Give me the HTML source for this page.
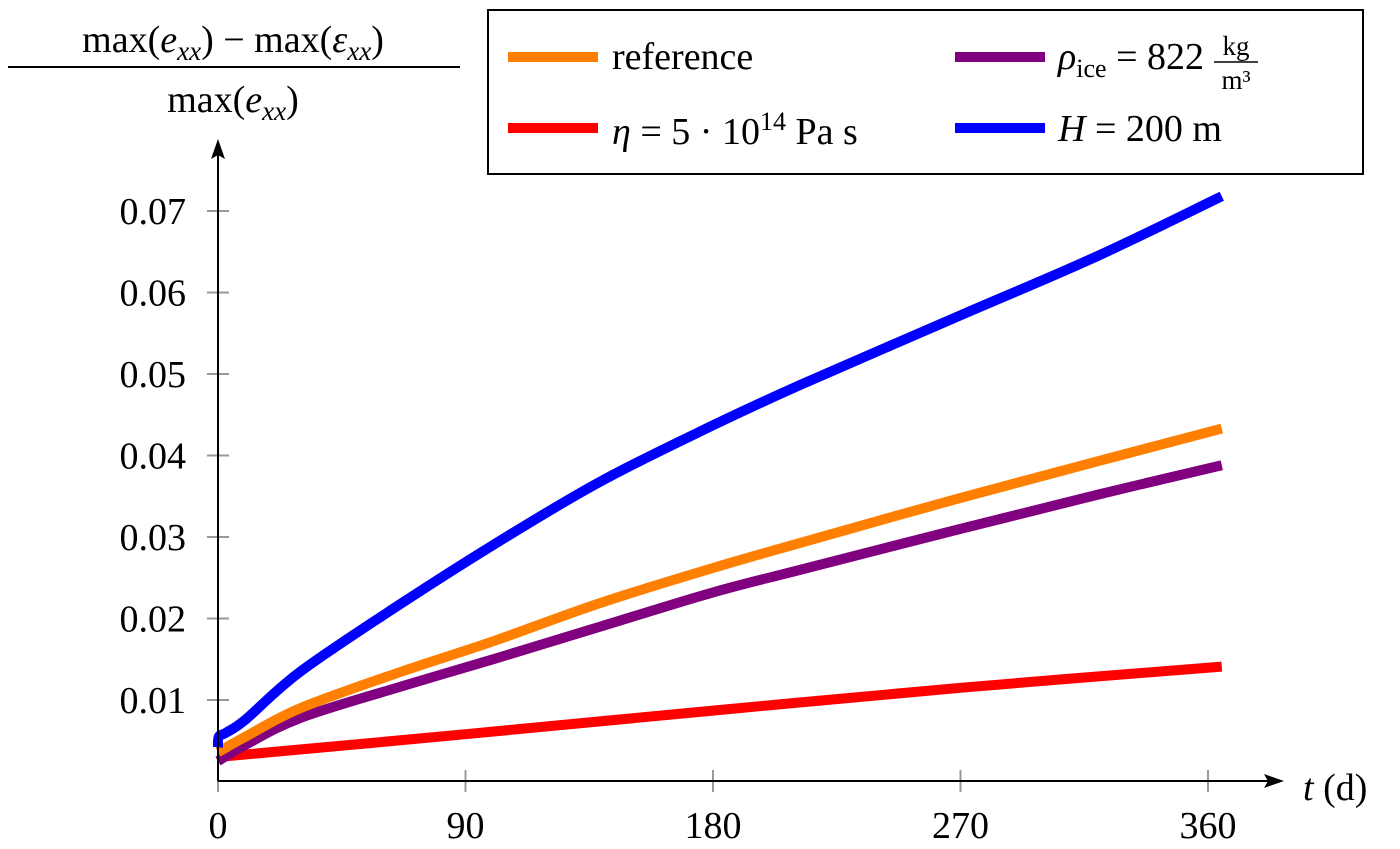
<!DOCTYPE html>
<html><head><meta charset="utf-8"><style>
html,body{margin:0;padding:0;background:#fff;}
svg{display:block;font-family:"Liberation Serif","DejaVu Serif",serif;}
</style></head><body>
<svg id="chart" width="1400" height="849" viewBox="0 0 1400 849" xmlns="http://www.w3.org/2000/svg">
<g id="grid"></g>
<g id="series"></g>
<g font-size="38">
  <text x="233" y="52" text-anchor="middle">max(<tspan font-style="italic">e</tspan><tspan font-style="italic" font-size="27" dy="8">xx</tspan><tspan dy="-8">) − max(</tspan><tspan font-style="italic">ε</tspan><tspan font-style="italic" font-size="27" dy="8">xx</tspan><tspan dy="-8">)</tspan></text>
  <line x1="8" y1="67" x2="460" y2="67" stroke="#000" stroke-width="2"/>
  <text x="233" y="112" text-anchor="middle">max(<tspan font-style="italic">e</tspan><tspan font-style="italic" font-size="27" dy="8">xx</tspan><tspan dy="-8">)</tspan></text>
</g>
<text x="1303" y="800" font-size="38"><tspan font-style="italic">t</tspan> (d)</text>
<g>
  <rect x="488" y="10" width="875" height="164" fill="#fff" stroke="#000" stroke-width="2"/>
  <g><line x1="508" y1="57" x2="598" y2="57" stroke="#ff8000" stroke-width="10"/><text x="612" y="69" font-size="38">reference</text></g>
  <g><line x1="955" y1="57" x2="1045" y2="57" stroke="#800080" stroke-width="10"/><text x="1058" y="69" font-size="38"><tspan font-style="italic">ρ</tspan><tspan font-size="26" dy="8">ice</tspan><tspan dy="-8"> = 822</tspan></text>
    <text x="1236" y="55" font-size="27" text-anchor="middle">kg</text><line x1="1214" y1="62" x2="1258" y2="62" stroke="#000" stroke-width="1.5"/><text x="1236" y="89" font-size="27" text-anchor="middle">m³</text></g>
  <g><line x1="508" y1="128" x2="598" y2="128" stroke="#ff0000" stroke-width="10"/><text x="612" y="144" font-size="38"><tspan font-style="italic">η</tspan> = 5 · 10<tspan font-size="26" dy="-14">14</tspan><tspan dy="14"> Pa s</tspan></text></g>
  <g><line x1="955" y1="128" x2="1045" y2="128" stroke="#0000ff" stroke-width="10"/><text x="1058" y="141" font-size="38"><tspan font-style="italic">H</tspan> = 200 m</text></g>
</g>
<g id="axes"></g>
</svg>
<script>
const xTicks=[0,90,180,270,360];
const yTicks=[0.01,0.02,0.03,0.04,0.05,0.06,0.07];
const yTickLabels=["0.01","0.02","0.03","0.04","0.05","0.06","0.07"];
const tRef=[0,10,30,66,100,139,180,212,270,320,365];
const vRef=[0.0036,0.0055,0.0090,0.0134,0.0172,0.0219,0.0262,0.0293,0.0348,0.0393,0.0433];
const tRho=[0,10,30,66,100,139,180,212,270,320,365];
const vRho=[0.0025,0.0045,0.0078,0.0116,0.0150,0.0190,0.0232,0.0260,0.0310,0.0352,0.0388];
const tEta=[0,90,180,270,365];
const vEta=[0.0030,0.0058,0.0087,0.0115,0.0141];
const tH=[0,0.3,3,10,30,66,100,139,180,212,270,320,365];
const vH=[0.0042,0.0055,0.0060,0.0076,0.0135,0.0217,0.0290,0.0368,0.0437,0.0487,0.0572,0.0645,0.0718];

const NS="http://www.w3.org/2000/svg";
const X=t=>218+t*(1208-218)/360;
const Y=v=>781.5-v*8150;
function mk(tag,attrs,parent){const e=document.createElementNS(NS,tag);for(const k in attrs)e.setAttribute(k,attrs[k]);parent.appendChild(e);return e;}
const grid=document.getElementById('grid'),axes=document.getElementById('axes'),series=document.getElementById('series');
xTicks.forEach(t=>{
  const l=mk('line',{x1:X(t),x2:X(t),y1:770,y2:792,stroke:'#999','stroke-width':2},grid);
  
  
  const tx=mk('text',{x:X(t),y:838,'text-anchor':'middle','font-size':38},axes);
  tx.textContent=String(t);
  
  
});
yTicks.forEach((v,i)=>{
  const l=mk('line',{x1:207,x2:229,y1:Y(v),y2:Y(v),stroke:'#999','stroke-width':2},grid);
  
  
  const tx=mk('text',{x:186,y:Y(v)+13,'text-anchor':'end','font-size':38},axes);
  tx.textContent=yTickLabels[i];
  
  
});
function drawLine(ts,vs,color,name){
  const P=ts.map((t,i)=>[X(t),Y(vs[i])]);
  let d='M'+P[0][0].toFixed(1)+','+P[0][1].toFixed(1);
  for(let i=0;i<P.length-1;i++){
    const p0=P[Math.max(0,i-1)],p1=P[i],p2=P[i+1],p3=P[Math.min(P.length-1,i+2)];
    const c1=[p1[0]+(p2[0]-p0[0])/6,p1[1]+(p2[1]-p0[1])/6];
    const c2=[p2[0]-(p3[0]-p1[0])/6,p2[1]-(p3[1]-p1[1])/6];
    d+=' C'+c1[0].toFixed(1)+','+c1[1].toFixed(1)+' '+c2[0].toFixed(1)+','+c2[1].toFixed(1)+' '+p2[0].toFixed(1)+','+p2[1].toFixed(1);
  }
  const p=mk('path',{d:d,fill:'none',stroke:color,'stroke-width':10,'stroke-linejoin':'round'},series);
  
  
}
drawLine(tEta,vEta,'#ff0000','eta-line');
drawLine(tRho,vRho,'#800080','rho-line');
drawLine(tRef,vRef,'#ff8000','reference-line');
drawLine(tH,vH,'#0000ff','h-line');
const xa=mk('path',{d:'M218,781 L1268,781',stroke:'#000','stroke-width':2,fill:'none'},axes);


const xh=mk('path',{d:'M1284,781 L1264,774 L1268,781 L1264,788 Z',fill:'#000'},axes);


const ya=mk('path',{d:'M218,781 L218,155',stroke:'#000','stroke-width':2,fill:'none'},axes);


const yh=mk('path',{d:'M218,139 L211,159 L218,155 L225,159 Z',fill:'#000'},axes);


</script>
</body></html>
